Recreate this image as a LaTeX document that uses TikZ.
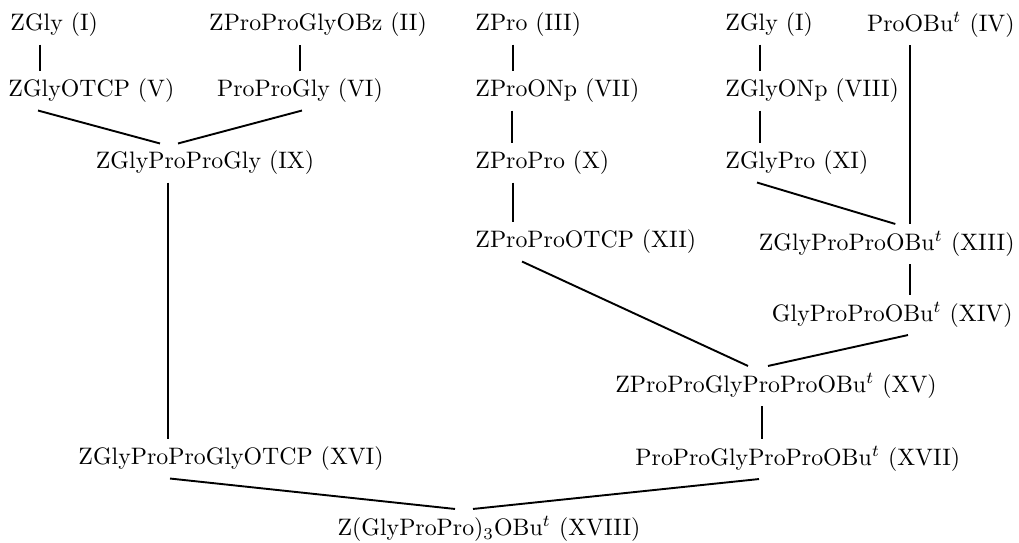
\documentclass[tikz,border=0pt]{standalone}
\usepackage{amsmath}
\usepackage{tikz}
\usetikzlibrary{calc}

\begin{document}
\begin{tikzpicture}[
    x=0.42pt, y=-0.42pt,
    every node/.style={inner xsep=0pt, inner ysep=3pt},
    cmpd/.style={anchor=center},
    lcmpd/.style={anchor=west},
    rcmpd/.style={anchor=east},
    link/.style={line width=0.8pt}
]
\useasboundingbox (0,0) rectangle (1019,542);

% Starting materials
\node[lcmpd] (glyA) at (10,25) {ZGly (I)};
\node[cmpd] (zppgobz) at (318,25) {ZProProGlyOBz (II)};
\node[lcmpd] (zpro) at (475,25) {ZPro (III)};
\node[lcmpd] (glyB) at (725,25) {ZGly (I)};
\node[rcmpd] (proobu) at (1015,25) {ProOBu$^t$ (IV)};

% Activated esters and free acids
\node[lcmpd] (zglyotcp) at (8,91) {ZGlyOTCP (V)};
\node[cmpd] (proprogly) at (300,91) {ProProGly (VI)};
\node[lcmpd] (zproonp) at (475,91) {ZProONp (VII)};
\node[lcmpd] (zglyonp) at (725,91) {ZGlyONp (VIII)};

% Dipeptides and tetrapeptide
\node[cmpd] (zgppg) at (205,163) {ZGlyProProGly (IX)};
\node[lcmpd] (zpropro) at (475,163) {ZProPro (X)};
\node[lcmpd] (zglypro) at (725,163) {ZGlyPro (XI)};

% Tripeptides
\node[lcmpd] (zppotcp) at (475,242) {ZProProOTCP (XII)};
\node[rcmpd] (zgppobu) at (1015,244) {ZGlyProProOBu$^t$ (XIII)};
\node[rcmpd] (gppobu) at (1013,315) {GlyProProOBu$^t$ (XIV)};

% Pentapeptides and beyond
\node[cmpd] (zppgppobu) at (776,386) {ZProProGlyProProOBu$^t$ (XV)};
\node[lcmpd] (zgppgotcp) at (78,459) {ZGlyProProGlyOTCP (XVI)};
\node[lcmpd] (ppgppobu) at (635,459) {ProProGlyProProOBu$^t$ (XVII)};
\node[cmpd] (final) at (489,529) {Z(GlyProPro)$_3$OBu$^t$ (XVIII)};

% Left branch
\draw[link] ([xshift=30*0.42pt]glyA.south west) -- ([xshift=30*0.42pt]glyA.south west |- zglyotcp.north);
\draw[link] (proprogly.north) -- (proprogly.north |- zppgobz.south);
\draw[link] ($(zglyotcp.south west)+(30,0)$) -- ($(zgppg.north)+(-45,0)$);
\draw[link] ($(proprogly.south)+(2,0)$) -- ($(zgppg.north)+(-27,0)$);
\draw[link] ([xshift=-37*0.42pt]zgppg.south) -- ([xshift=-37*0.42pt]zgppg.south |- zgppgotcp.north);

% Middle branch
\draw[link] ([xshift=38*0.42pt]zpro.south west) -- ([xshift=38*0.42pt]zpro.south west |- zproonp.north);
\draw[link] ([xshift=37*0.42pt]zproonp.south west) -- ([xshift=37*0.42pt]zproonp.south west |- zpropro.north);
\draw[link] ([xshift=38*0.42pt]zpropro.south west) -- ([xshift=38*0.42pt]zpropro.south west |- zppotcp.north);

% Right branch
\draw[link] ([xshift=35*0.42pt]glyB.south west) -- ([xshift=35*0.42pt]glyB.south west |- zglyonp.north);
\draw[link] ([xshift=35*0.42pt]zglyonp.south west) -- ([xshift=35*0.42pt]zglyonp.south west |- zglypro.north);
\draw[link] ([xshift=-105*0.42pt]proobu.south east) -- ([xshift=-105*0.42pt]proobu.south east |- zgppobu.north);
\draw[link] ($(zglypro.south west)+(32,0)$) -- ($(zgppobu.north west)+(137,0)$);
\draw[link] ([xshift=-105*0.42pt]zgppobu.south east) -- ([xshift=-105*0.42pt]zgppobu.south east |- gppobu.north);

% Couplings
\draw[link] ($(zppotcp.south west)+(47,0)$) -- ($(zppgppobu.north)+(-28,0)$);
\draw[link] ($(gppobu.south east)+(-105,0)$) -- ($(zppgppobu.north)+(-8,0)$);
\draw[link] ([xshift=-14*0.42pt]zppgppobu.south) -- ([xshift=-14*0.42pt]zppgppobu.south |- ppgppobu.north);
\draw[link] ($(zgppgotcp.south west)+(92,0)$) -- ($(final.north)+(-34,0)$);
\draw[link] ($(ppgppobu.south west)+(124,0)$) -- ($(final.north)+(-16,0)$);

\end{tikzpicture}
\end{document}
